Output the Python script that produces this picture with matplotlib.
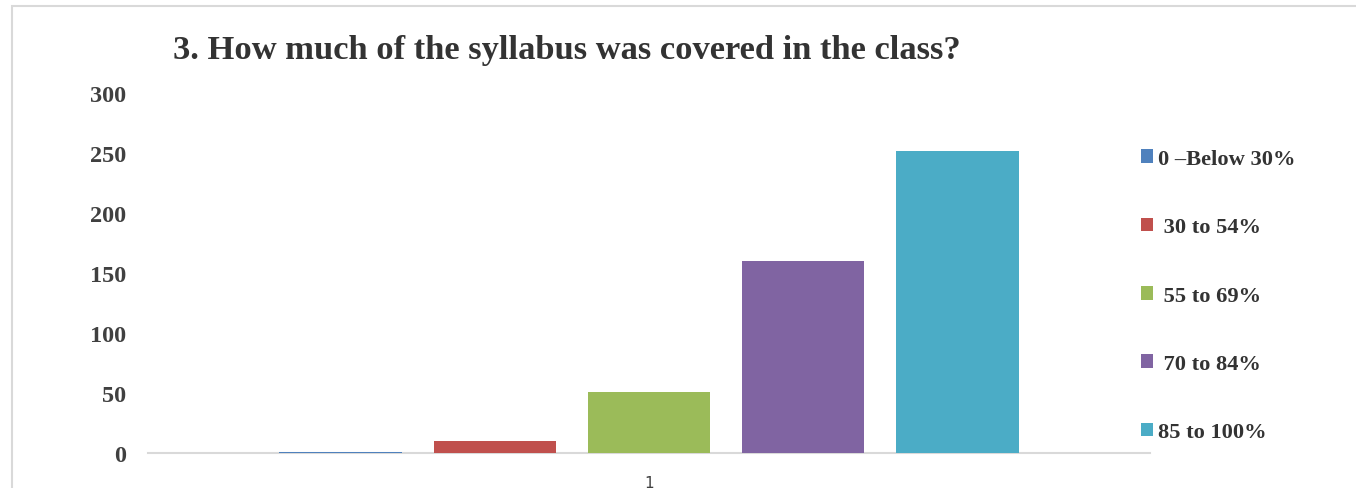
import numpy as np
import matplotlib.pyplot as plt
from matplotlib.patches import Patch, Rectangle

plt.rcParams['font.family'] = ['Liberation Serif', 'DejaVu Serif']

labels = ['0 \u2013Below 30%', ' 30 to 54%', ' 55 to 69%', ' 70 to 84%', '85 to 100%']
values = [1, 10, 51, 160, 252]
colors = ['#4F81BD', '#C0504D', '#9BBB59', '#8064A2', '#4BACC6']
category = '1'

W, H = 1356, 489
fig = plt.figure(figsize=(W / 100, H / 100), dpi=100)

# chart frame (light grey, runs off right/bottom)
fig.patches.append(Rectangle((12 / W, -0.1), 1.2, 1 - 7 / H + 0.1, transform=fig.transFigure,
                             fill=False, edgecolor='#d9d9d9', linewidth=1.5))

ax = fig.add_axes([148 / W, 1 - 454 / H, (1150 - 148) / W, (454 - 94) / H])

step = 0.154
width = 0.122
offsets = (np.arange(len(values)) - (len(values) - 1) / 2) * step
for off, v, c in zip(offsets, values, colors):
    ax.bar(off, v, width=width, color=c, zorder=3)

ax.set_xlim(-0.5, 0.5)
ax.set_ylim(0, 300)
ax.set_yticks(np.arange(0, 301, 50))
ax.set_xticks([0])
ax.set_xticklabels([category], fontfamily='DejaVu Sans', fontsize=11, color='#404040')
ax.tick_params(axis='both', length=0)
ax.tick_params(axis='y', pad=16, labelsize=17.5, labelcolor='#404040')
ax.tick_params(axis='x', pad=16)
for t in ax.get_yticklabels():
    t.set_fontweight('bold')
for s in ['top', 'right', 'left']:
    ax.spines[s].set_visible(False)
ax.spines['bottom'].set_color('#d9d9d9')
ax.spines['bottom'].set_linewidth(1.5)

fig.text(567 / W, 1 - 50 / H, '3. How much of the syllabus was covered in the class?',
         ha='center', va='center', fontsize=24.8, fontweight='bold', color='#333333')

handles = [Patch(facecolor=c, edgecolor='none') for c in colors]
fig.legend(handles, labels, loc='upper left', bbox_to_anchor=(1141 / W, 1 - 150 / H),
           frameon=False, prop={'weight': 'bold', 'size': 16.2}, labelcolor='#333333',
           handlelength=0.55, handleheight=0.55, handletextpad=0.2, labelspacing=2.15,
           borderaxespad=0, borderpad=0)

fig.savefig('out.png', dpi=100)
